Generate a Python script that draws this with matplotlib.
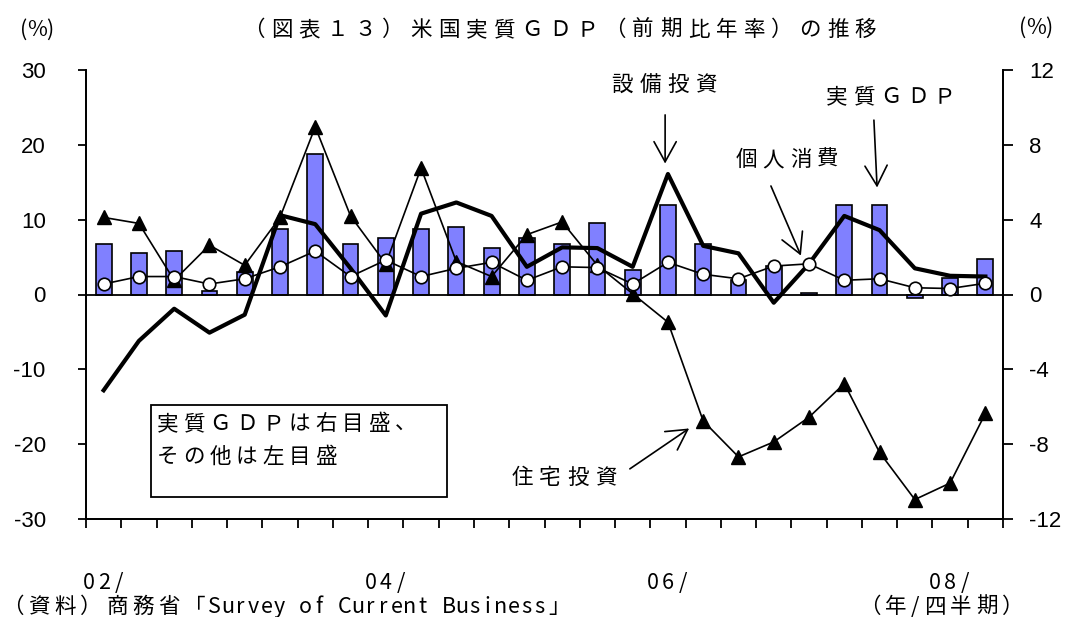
import unicodedata
import matplotlib
matplotlib.use("Agg")
import matplotlib.pyplot as plt
import matplotlib.patches as mpatches
import numpy as np

plt.rcParams['font.family'] = ['Noto Sans CJK JP', 'DejaVu Sans']
plt.rcParams['axes.unicode_minus'] = False

# 2002Q1 - 2008Q2, 前期比年率 (%)
quarters = np.arange(26)
year_labels = ["02/", "04/", "06/", "08/"]
year_pos = [0, 8, 16, 24]

gdp = [2.7, 2.2, 2.3, 0.2, 1.2, 3.5, 7.5, 2.7, 3.0, 3.5, 3.6, 2.5, 3.0,
       2.7, 3.8, 1.3, 4.8, 2.7, 0.8, 1.5, 0.1, 4.8, 4.8, -0.2, 0.9, 1.9]
consumption = [1.4, 2.4, 2.4, 1.4, 2.1, 3.7, 5.8, 2.4, 4.6, 2.4, 3.5, 4.3, 1.9,
               3.7, 3.6, 1.4, 4.3, 2.7, 2.1, 3.8, 4.1, 1.9, 2.1, 0.9, 0.8, 1.5]
residential = [10.3, 9.5, 1.9, 6.6, 3.9, 10.3, 22.4, 10.5, 4.1, 16.9, 4.4, 2.4, 8.0,
               9.7, 3.9, 0.1, -3.7, -16.9, -21.7, -19.7, -16.4, -11.9, -21.1, -27.4, -25.2, -15.9]
equipment = [-12.8, -6.2, -1.9, -5.1, -2.7, 10.6, 9.4, 3.5, -2.8, 10.8, 12.3, 10.5, 3.7,
             6.3, 6.2, 3.7, 16.1, 6.5, 5.5, -1.1, 4.1, 10.5, 8.6, 3.5, 2.5, 2.4]

W, H = 1069, 617
fig = plt.figure(figsize=(W / 100, H / 100), dpi=100)
TXT = 15.5


def spaced_text(x, y, s, pitch, size=TXT, align='left', zorder=6):
    # monospaced layout: full-width cells of `pitch` px, half-width cells of pitch/2
    widths = [pitch if unicodedata.east_asian_width(c) in 'FW' else pitch / 2 for c in s]
    total = sum(widths)
    pos = {'left': x, 'center': x - total / 2, 'right': x - total}[align]
    for c, w in zip(s, widths):
        fig.text((pos + w / 2) / W, 1 - y / H, c, ha='center', va='center',
                 fontsize=size, zorder=zorder)
        pos += w


ax = fig.add_axes([86 / W, 1 - 519 / H, (1003 - 86) / W, (519 - 70) / H])
ax2 = ax.twinx()
ax.set_zorder(ax2.get_zorder() + 1)
ax.patch.set_visible(False)

# GDP bars on the right scale
ax2.bar(quarters, gdp, width=0.45, color='#8080FF', edgecolor='black', linewidth=1.2)
ax2.set_ylim(-12, 12)
ax2.set_yticks(range(-12, 13, 4))

ax.axhline(0, color='black', lw=1.3, zorder=1)
ax.plot(quarters, equipment, color='black', lw=3, zorder=2)
ax.plot(quarters, residential, color='black', lw=1.2, marker='^', markersize=10,
        markerfacecolor='black', zorder=3)
ax.plot(quarters, consumption, color='black', lw=1.2, marker='o', markersize=9,
        markerfacecolor='white', markeredgecolor='black', markeredgewidth=1.2, zorder=4)

ax.set_ylim(-30, 30)
ax.set_yticks(range(-30, 31, 10))
ax.set_xlim(-0.5, 25.5)
ax.set_xticks(np.arange(-0.5, 26, 1), minor=True)
ax.set_xticks(year_pos)
ax.set_xticklabels([])
ax.tick_params(axis='x', which='major', length=0)
ax.tick_params(axis='x', which='minor', length=6.5, width=1.3, direction='out')
ax.tick_params(axis='y', length=6, width=1.3, pad=23)
ax2.tick_params(axis='y', length=7, width=1.3, pad=12)
for lab in ax.get_yticklabels() + ax2.get_yticklabels():
    lab.set_fontfamily('Liberation Sans')
    lab.set_fontsize(16)
for xp, lab in zip(year_pos, year_labels):
    x_px = 86 + (xp + 0.5) * (1003 - 86) / 26
    spaced_text(x_px, 583, lab, 30, align='center')

for a in (ax, ax2):
    a.spines['top'].set_visible(False)
    for s in ('left', 'right', 'bottom'):
        a.spines[s].set_linewidth(1.3)

arrow = dict(arrowstyle='->,head_length=1.45,head_width=0.8', color='black', lw=1.2,
             shrinkA=0, shrinkB=0)

ax.annotate('', xy=(15.92, 17.5), xytext=(15.92, 24.0), arrowprops=arrow)
ax.annotate('', xy=(21.93, 14.3), xytext=(21.84, 23.3), arrowprops=arrow)
ax.annotate('', xy=(19.77, 5.2), xytext=(18.92, 14.5), arrowprops=arrow)
ax.annotate('', xy=(16.6, -17.9), xytext=(14.92, -23.3), arrowprops=arrow)

spaced_text(608, 85, '設備投資', 28)
spaced_text(823, 97, '実質ＧＤＰ', 27)
spaced_text(733, 160, '個人消費', 27)
spaced_text(508, 478, '住宅投資', 28)

box = mpatches.Rectangle((151 / W, 1 - 497 / H), (447 - 151) / W, (497 - 405) / H,
                         transform=fig.transFigure, facecolor='white', edgecolor='black',
                         lw=1.3, zorder=5)
fig.add_artist(box)
spaced_text(154, 424, '実質ＧＤＰは右目盛、', 26.5)
spaced_text(154, 457, 'その他は左目盛', 26.5)

spaced_text(37, 30, '(%)', 26, align='center')
spaced_text(1036, 28, '(%)', 26, align='center')
spaced_text(240, 30, '（図表１３）米国実質ＧＤＰ（前期比年率）の推移', 27.8)
spaced_text(0, 607, '（資料）商務省「Survey of Current Business」', 26)
spaced_text(1026, 607, '（年/四半期）', 26, align='right')

fig.savefig('out.png', dpi=100)
